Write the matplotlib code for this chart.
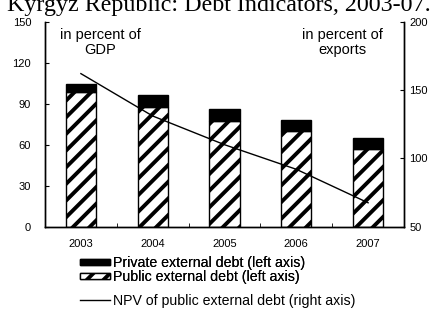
import matplotlib
matplotlib.use("Agg")
import matplotlib.pyplot as plt
import numpy as np

plt.rcParams['font.family'] = ['Liberation Sans', 'DejaVu Sans']
plt.rcParams['hatch.linewidth'] = 2.8

years = ["2003", "2004", "2005", "2006", "2007"]
public_debt = [98.4, 87.8, 77.4, 70.3, 57.1]
private_debt = [5.8, 8.4, 8.8, 7.8, 8.0]
npv_public = [162, 131, 110, 92, 67.5]

W, H = 432, 327
fig = plt.figure(figsize=(W / 100, H / 100), dpi=100)
ax = fig.add_axes([45 / W, 100.3 / H, 359 / W, 205 / H])
ax2 = ax.twinx()

x = np.arange(len(years))
b1 = ax.bar(x, public_debt, width=0.42, color='white', edgecolor='black',
            hatch='//', linewidth=1.0)
b2 = ax.bar(x, private_debt, width=0.42, bottom=public_debt, color='black',
            edgecolor='black', linewidth=1.0)
ln, = ax2.plot(x, npv_public, color='black', linewidth=1.0)

ax.set_xlim(-0.5, len(years) - 0.5)
ax.set_ylim(0, 150)
ax.set_yticks(range(0, 151, 30))
ax2.set_ylim(50, 200)
ax2.set_yticks(range(50, 201, 50))

ax.set_xticks(x)
ax.set_xticklabels(years)
ax.set_xticks(np.arange(-0.5, len(years), 1.0), minor=True)
ax.tick_params(axis='x', which='major', length=0, labelsize=8, pad=9)
ax.tick_params(axis='x', which='minor', direction='in', length=3)
ax.tick_params(axis='y', direction='in', length=3, labelsize=8, pad=10)
ax2.tick_params(axis='y', direction='in', length=3, labelsize=8, pad=4)

for a in (ax, ax2):
    a.spines['top'].set_visible(False)
    for s in a.spines.values():
        s.set_linewidth(1.0)

# unit notes (pixel positions from top)
for xc, lines in [(100, ("in percent of", "GDP")), (342, ("in percent of", "exports"))]:
    fig.text(xc / W, 1 - 35 / H, lines[0], ha='center', va='center', fontsize=10.5)
    fig.text(xc / W, 1 - 50 / H, lines[1], ha='center', va='center', fontsize=10.5)

# title is partly cut off at the top, as in the source image
fig.text(219 / W, 1 - 11 / H, "Kyrgyz Republic: Debt Indicators, 2003-07.",
         ha='center', va='baseline', fontsize=17.3, family='Liberation Serif')

leg1 = fig.legend([b2, b1],
                  ['Private external debt (left axis)', 'Public external debt (left axis)'],
                  loc='center left', bbox_to_anchor=(80 / W, 1 - 270 / H),
                  frameon=False, fontsize=10.2, handlelength=2.1, handleheight=0.35,
                  handletextpad=0.2, labelspacing=0.0, borderpad=0, borderaxespad=0)
fig.add_artist(leg1)
fig.legend([ln], ['NPV of public external debt (right axis)'],
           loc='center left', bbox_to_anchor=(80 / W, 1 - 301 / H),
           frameon=False, fontsize=10.2, handlelength=2.1,
           handletextpad=0.2, borderpad=0, borderaxespad=0)

fig.savefig("out.png", dpi=100)
